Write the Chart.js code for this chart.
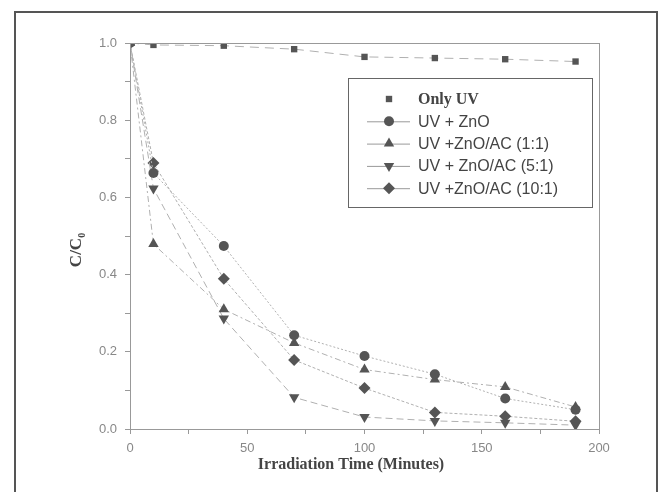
<!DOCTYPE html>
<html><head><meta charset="utf-8">
<script src="https://cdn.jsdelivr.net/npm/chart.js@4/dist/chart.umd.min.js"></script>
<style>html,body{margin:0;padding:0;background:#fff;}#wrap{width:663px;height:492px;position:relative;}</style>
</head><body><div id="wrap"><canvas id="c" width="663" height="492"></canvas></div>
<script>
const times = [0, 10, 40, 70, 100, 130, 160, 190];
const seriesLabels = ['Only UV', 'UV + ZnO', 'UV +ZnO/AC (1:1)', 'UV + ZnO/AC (5:1)', 'UV +ZnO/AC (10:1)'];
const onlyUV   = [1.0, 0.995, 0.993, 0.984, 0.964, 0.961, 0.958, 0.952];
const uvZnO    = [1.0, 0.663, 0.474, 0.243, 0.189, 0.142, 0.079, 0.050];
const ac11     = [1.0, 0.479, 0.310, 0.223, 0.154, 0.128, 0.109, 0.057];
const ac51     = [1.0, 0.623, 0.286, 0.082, 0.031, 0.021, 0.016, 0.010];
const ac101    = [1.0, 0.689, 0.389, 0.179, 0.106, 0.043, 0.033, 0.020];
const xTitle = 'Irradiation Time (Minutes)';

const pts = arr => arr.map((v, i) => ({x: times[i], y: v}));
const styles = [
  {pointStyle: 'rect', rot: 0, r: 4.5, dash: [9, 6]},
  {pointStyle: 'circle', rot: 0, r: 5, dash: [2, 2]},
  {pointStyle: 'triangle', rot: 0, r: 6, dash: [6, 3, 2, 3]},
  {pointStyle: 'triangle', rot: 180, r: 6, dash: [7, 4]},
  {pointStyle: 'rectRot', rot: 0, r: 6, dash: [3, 2]}
];
const values = [onlyUV, uvZnO, ac11, ac51, ac101];
const datasets = values.map((v, i) => ({
  label: seriesLabels[i],
  data: pts(v),
  borderColor: '#b0b0b0',
  borderWidth: 1,
  borderDash: styles[i].dash,
  pointStyle: styles[i].pointStyle,
  pointRotation: styles[i].rot,
  pointRadius: styles[i].r,
  pointBackgroundColor: '#555',
  pointBorderColor: '#555',
  pointBorderWidth: 0,
  tension: 0
}));

const decor = {
  id: 'decor',
  afterDraw(chart) {
    const ctx = chart.ctx, a = chart.chartArea;
    ctx.save();
    // outer frame
    ctx.strokeStyle = '#555'; ctx.lineWidth = 2;
    ctx.strokeRect(15, 12, 642, 482);
    // plot box
    ctx.strokeStyle = '#999'; ctx.lineWidth = 1;
    ctx.strokeRect(a.left + 0.5, a.top + 0.5, a.right - a.left, a.bottom - a.top);
    // x title
    ctx.fillStyle = '#444';
    ctx.font = 'bold 16px "Liberation Serif"';
    ctx.textAlign = 'center'; ctx.textBaseline = 'middle';
    ctx.fillText(xTitle, 351, 465);
    // y title C/C0
    ctx.translate(77, 250); ctx.rotate(-Math.PI / 2);
    ctx.font = 'bold 17px "Liberation Serif"';
    ctx.textAlign = 'left';
    const w1 = ctx.measureText('C/C').width;
    ctx.font = 'bold 10px "Liberation Serif"';
    const w2 = ctx.measureText('0').width;
    const sx = -(w1 + w2) / 2;
    ctx.font = 'bold 17px "Liberation Serif"';
    ctx.fillText('C/C', sx, 0);
    ctx.font = 'bold 10px "Liberation Serif"';
    ctx.fillText('0', sx + w1, 5);
    ctx.setTransform(1, 0, 0, 1, 0, 0);
    // legend
    ctx.strokeStyle = '#666'; ctx.lineWidth = 1;
    ctx.strokeRect(348.5, 78.5, 244, 129);
    chart.data.datasets.forEach((ds, i) => {
      const y = 99 + i * 22.3;
      if (i > 0) {
        ctx.strokeStyle = '#999'; ctx.lineWidth = 1; ctx.setLineDash([]);
        ctx.beginPath(); ctx.moveTo(367, y + 0.5); ctx.lineTo(410, y + 0.5); ctx.stroke();
      }
      ctx.fillStyle = '#555'; ctx.strokeStyle = '#555';
      Chart.helpers.drawPoint(ctx, {pointStyle: ds.pointStyle, radius: ds.pointRadius, rotation: ds.pointRotation, borderWidth: 0}, 389, y);
      ctx.fillStyle = '#444';
      ctx.textAlign = 'left'; ctx.textBaseline = 'middle';
      ctx.font = i === 0 ? 'bold 16px "Liberation Serif"' : '16px "Liberation Sans"';
      ctx.fillText(ds.label, 418, y + 1);
    });
    ctx.restore();
  }
};

new Chart(document.getElementById('c'), {
  type: 'line',
  data: {datasets},
  options: {
    responsive: false,
    animation: false,
    devicePixelRatio: 1,
    layout: {padding: {left: 0, top: 43, right: 64, bottom: 0}},
    plugins: {legend: {display: false}, tooltip: {enabled: false}},
    scales: {
      x: {
        type: 'linear', min: 0, max: 200,
        border: {color: '#999'},
        grid: {drawOnChartArea: false, color: '#999', tickLength: 5},
        ticks: {stepSize: 25, color: '#888', font: {family: 'Liberation Sans', size: 13}, padding: 7,
          callback: v => (v % 50 === 0 ? String(v) : '')},
        afterFit: s => { s.height = 63; }
      },
      y: {
        min: 0, max: 1.0,
        border: {color: '#999'},
        grid: {drawOnChartArea: false, color: '#999', tickLength: 5},
        ticks: {stepSize: 0.1, color: '#888', font: {family: 'Liberation Sans', size: 13}, padding: 8,
          callback: v => (Math.round(v * 10) % 2 === 0 ? v.toFixed(1) : '')},
        afterFit: s => { s.width = 130; }
      }
    }
  },
  plugins: [decor]
});
</script></body></html>
